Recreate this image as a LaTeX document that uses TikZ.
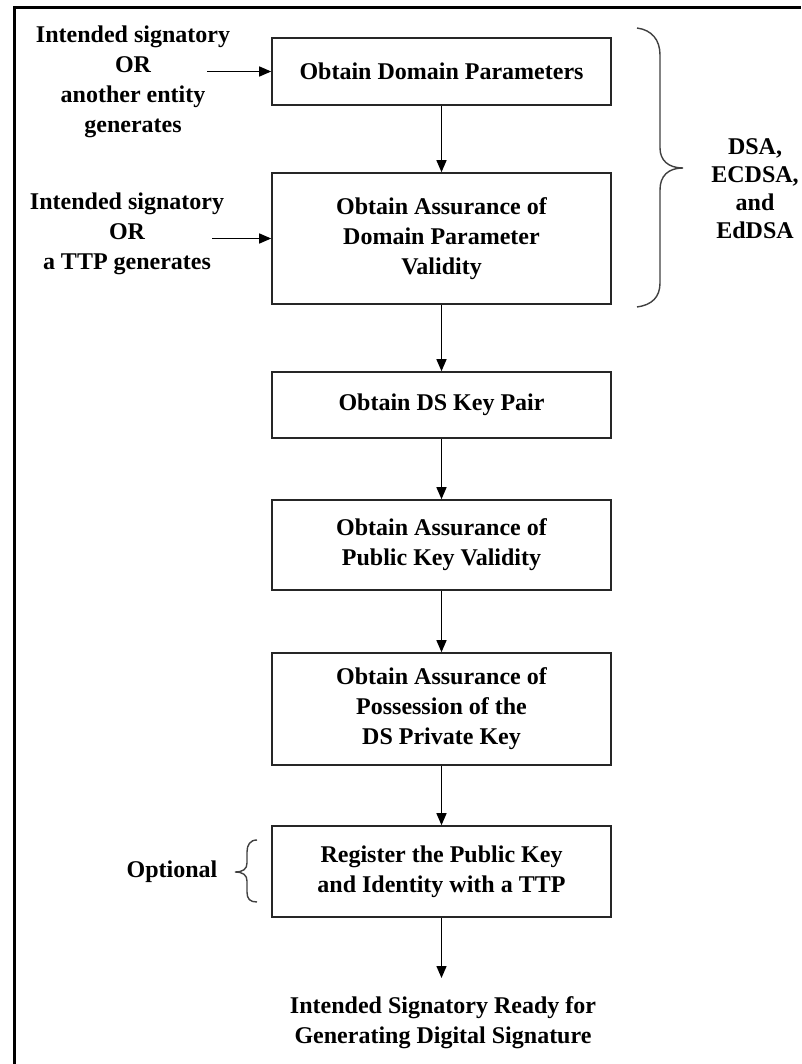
\documentclass[tikz,border=0pt]{standalone}
\usepackage{fontspec}
\setmainfont{Liberation Serif}
\usetikzlibrary{arrows.meta}
\begin{document}
\begin{tikzpicture}[x=1pt,y=-1pt,
  lbl/.style={font=\fontsize{24}{30}\selectfont\bfseries, align=center, inner sep=0pt},
  stepbox/.style={lbl, draw=black!85, line width=1.6pt, minimum width=339pt},
  flow/.style={line width=1.4pt, -{Triangle[length=12pt,width=10pt]}},
  brace/.style={line width=1.4pt, draw=black!75}]
\useasboundingbox (0,0) rectangle (801,1064);
% frame (left and top edges)
\draw[line width=3pt] (14,1064) -- (14,8) -- (801,8);

% main chain of steps
\node[stepbox, minimum height=67pt]  (b1) at (441.5,71.5) {Obtain Domain Parameters};
\node[stepbox, minimum height=131pt] (b2) at (441.5,238.5) {Obtain Assurance of\\Domain Parameter\\Validity};
\node[stepbox, minimum height=66pt]  (b3) at (441.5,405) {Obtain DS Key Pair};
\node[stepbox, minimum height=90pt]  (b4) at (441.5,545) {Obtain Assurance of\\Public Key Validity};
\node[stepbox, minimum height=112pt] (b5) at (441.5,709) {Obtain Assurance of\\Possession of the\\DS Private Key};
\node[stepbox, minimum height=91pt]  (b6) at (441.5,871.5) {Register the Public Key\\and Identity with a TTP};
\node[lbl] (ready) at (443,1022.5) {Intended Signatory Ready for\\Generating Digital Signature};
\coordinate (ready-in) at (441.5,978);

% side inputs
\node[lbl] (src1) at (133,82) {Intended signatory\\OR\\another entity\\generates};
\node[lbl] (src2) at (127,234) {Intended signatory\\OR\\a TTP generates};
\coordinate (s1) at (207,71.5);
\coordinate (s2) at (212,238.5);

% annotations
\node[lbl, font=\fontsize{24}{28}\selectfont\bfseries] (algs) at (755,189) {DSA,\\ECDSA,\\and\\EdDSA};
\node[lbl] (opt) at (172,872) {Optional};

% connectors
\draw[flow] (s1) -- (b1.west);
\draw[flow] (s2) -- (b2.west);
\draw[flow] (b1) -- (b2);
\draw[flow] (b2) -- (b3);
\draw[flow] (b3) -- (b4);
\draw[flow] (b4) -- (b5);
\draw[flow] (b5) -- (b6);
\draw[flow] (b6) -- (ready-in);

% brace grouping the domain-parameter steps
\draw[brace] (637,28) .. controls (652,30) and (660,40) .. (660,55) -- (660,148)
  .. controls (660,160) and (668,168) .. (683,168)
  .. controls (668,168) and (660,176) .. (660,190) -- (660,283)
  .. controls (660,297) and (652,305) .. (637,307);

% brace marking the optional registration step
\draw[brace] (257,840) .. controls (250,840) and (247,845) .. (247,852) -- (247,863)
  .. controls (247,869) and (243,872) .. (235,872)
  .. controls (243,872) and (247,875) .. (247,881) -- (247,892)
  .. controls (247,899) and (250,902) .. (257,902);
\end{tikzpicture}
\end{document}
